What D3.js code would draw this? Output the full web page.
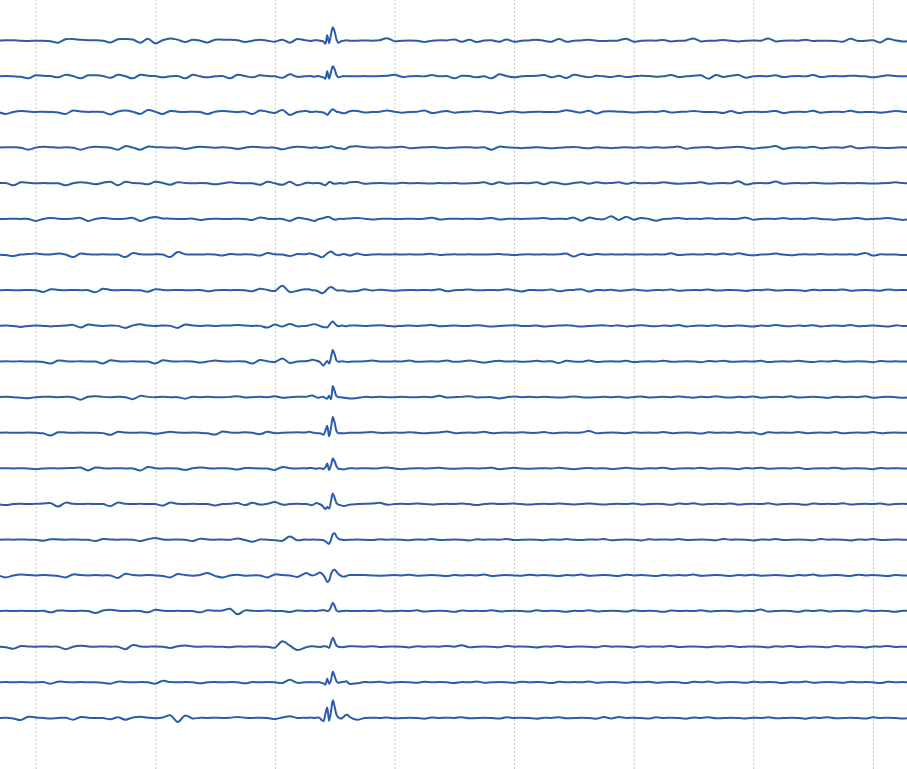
<!DOCTYPE html>
<html>
<head>
<meta charset="utf-8">
<script src="https://cdn.jsdelivr.net/npm/d3@7"></script>
<style>
  html, body { margin: 0; padding: 0; background: #ffffff; }
  svg { display: block; }
</style>
</head>
<body>
<svg id="chart" width="907" height="769"></svg>
<script>
// Sample times (s): coarse 1/16 s, finer 1/64 s around the spike, then coarse again
const times = [
  ...d3.range(42).map(k => -0.3125 + k / 16),
  ...d3.range(1, 25).map(k => 2.25 + k / 64),
  ...d3.range(75).map(k => 2.6875 + k / 16)
];
const gridSeconds = [0, 1, 2, 3, 4, 5, 6, 7];

// Channel amplitudes (top to bottom)
const ch01 = [0,0.5,0.5,0,-0.3,0,0,-0.5,-2,1.5,1.7,1,0.5,0.5,0,-1.7,1.5,1.7,1.2,-2,2,-2.7,0.5,2.3,1,-1.3,1,0,-1.7,1,1,1,0.5,-1.3,0,1,0,-1,1,-2,1.7,0.5,
  0.3,0,-0.3,0,0.3,0.5,0.3,0,-0.3,-1,-3,5.5,-2.5,6,13.5,9,1,-2,-1,-0.3,0,0.3,0.3,0,
  0,0.3,0,0.5,2.5,-0.5,0,0.3,0,-1.3,0,0.5,0.3,1.3,-1,1,-1.3,0.2,0.5,-1,1.3,-1,0,0.3,1,0,-1,1.7,-1,0,0.3,1,0,-0.3,0,0.3,2,-1,0,0.3,0,0.7,-0.7,0,0.3,2.3,-0.7,0,0,0.7,0,-0.7,0,0.3,0,2.3,-0.7,0,0.2,0,1,-0.3,0,0,-0.3,-1,2,-0.3,0,0.5,-1.7,2,0.3,-0.7,0];
const ch02 = [0,0.3,0,-0.5,-2,1,0.5,0.3,-1,1.5,0.3,-2,1,1,0.3,-1.5,1.5,0,-2,1.5,0.5,0.3,-1,0,0.3,-2,1.5,0,-1,0,0.3,-2,1.5,0.3,-1,1,0.3,0,-1.5,2,-0.5,0,
  0,0.3,0.3,0,-0.3,0,0.3,0,-0.5,-1,-2.3,5,-2.3,4,10,7,1,-1,-0.5,0,0,0.3,0,0,
  0,0.3,0,0.3,0.5,1.7,-0.5,0,0.3,0,1.3,0,0.3,-2,0.5,0.3,-1,0,-2,2,0.3,-1,0,0.3,0.5,1.3,-1,0.5,-1.7,1.5,0.3,-1,0.5,0,-0.7,0.7,-0.7,0,0.7,0.3,-0.3,0,1.3,-0.7,0,0.5,1,-2.3,1.3,-0.7,0.7,1.3,-1.3,0,0.3,0,1,-0.7,0,0.3,0,1.3,-0.7,0,0.3,0,0.7,0.3,0,-1,0,1,0.3,0,0];
const ch03 = [0,-2,0,1,0.5,0,0.3,0,-0.5,-2,1.5,0.5,0,0.3,0,-2.5,0.5,1.5,0.3,-2,2,0.3,-2,1,0.3,0,0.3,0,-2,0.3,1,0.5,0,0.3,-2,1.5,0.3,-1,2,-3,0,1,
  1,0.5,0,0,0.3,0.5,0.3,0,-0.3,-0.5,-1.5,-3,-1,1.5,2.7,1.5,0.3,0,-0.5,-1,-1.3,-1,0,0.8,
  1,-0.5,0,0.3,1.5,0.3,-0.7,0,0.3,1.5,-1,0,1,-0.7,0,0.3,1,0.3,0,-1.3,0,0.5,-0.5,0,0.3,0,0,0.3,1.7,0.5,-0.5,1.3,-1.5,0.5,0.7,0.3,0,-0.5,0,0.3,0,1,-0.5,0,0.3,1,0.3,0,0,-1,1,-1,0,0.3,0,0.3,1,-1,0,0.3,0,1.3,-0.7,0,0.3,0,1.3,-0.3,0,0,-0.7,0,1,0.3,0];
const ch04 = [0,0.3,0.3,0,-2,0,1,0.5,0,0.3,0,-2,0,1,0.5,0,-2,1.5,0,-2,1,0.5,0.3,0,0,-1.3,0,1,0.3,0,0.3,0,-1.3,0,1,0.3,0,0,-1.7,0,1,0.5,
  0.3,0,0,0,0.2,0.3,0,-0.3,-0.3,0,0.3,0.3,0.8,1.3,1,0.3,-0.3,-0.5,-0.5,-1,-1.5,-1,0,0.8,
  1.3,0.5,0,0.3,0,0.3,1,-0.5,0,0.3,0.7,0,-0.5,0,0.3,0.5,0,0.3,-2,1,0.3,0,-0.5,0,0.5,0,-0.7,0,0.3,0.7,0,-0.7,0.5,0,-0.5,0,0.3,0,0.5,0,0.3,0,0.3,1,-1,0,0.3,0.7,-0.5,0,0.3,1,0,-1,0,0.3,1.7,-1.3,0,0.3,0,1,-0.5,0,0.3,0,1.3,-0.7,0,0.5,0,-0.3,0,0.3,0];
const ch05 = [0,0.3,-2,1,0.5,0,0.3,0,0,-2,0,1,0.3,-1,0.5,1.5,-2,1.5,0.3,0,-1,1.5,0.3,-1.5,1,0.3,0,0.3,0,-1,0,1,0.3,0,0,-1.5,1.5,0,-1.5,1.5,-2,0,
  0.5,0.5,0.3,0,0,0.3,0.3,0,-0.5,-1.5,-2,-0.5,1.3,1,0,-0.5,-0.3,0,0.3,0,-0.3,0,0.5,1,
  1.3,-0.5,0,0.3,0,-0.3,0.5,0,0.3,0,-0.3,0.3,0,0.3,-0.3,0,0.3,1,-1,1,-0.5,0,0.3,0,1,-1,1,0,-1,0.3,1,-0.5,1,0,0.3,1,-0.5,0.7,0,0.3,0,1,0,-0.5,0,0.3,1,-0.5,0,0.3,0,2,-1.3,0,0.3,0,1.7,-0.5,0,0.3,0,0.5,0,-0.3,0,0.3,0,0.3,0,-0.3,0,0.3,1,0.3,0];
const ch06 = [0,0,0.3,0,0,-2,0,1,0.3,0,0.5,1,-2,0,1,0.3,0,0.3,1,-2,0.5,2,0.5,0.3,0,0,0.3,-1,0,0.3,0,0,0.3,0,-1,1.5,0.3,0,0,-2,1,0.3,
  0,-0.5,-1,-1.5,-2,-1.5,-0.5,0,0.5,1,1.5,2,2,1,0,-0.7,-0.5,0,0.3,0,0,0.3,0.5,0.5,
  1,0.3,-0.5,0,0.3,0,0,0.3,0,0.3,1.3,-0.5,0,0.3,0,0.3,0,0.3,1,-0.5,0,0.3,0,0.3,0.5,1,0,0.3,0,1.3,-1.7,1.3,0,-0.3,2.7,-1,2.3,-0.7,1,0,-1.7,0,0.3,1,0,0.3,0,0.7,0,0.3,0,0.3,1.3,-0.7,0,0.3,0,1,0,0.3,0,1,0,-0.3,-0.7,0,0.3,1,-0.3,0,0.3,1,0,-1,0];
const ch07 = [0,-0.5,-1.5,0,0.5,1,0.3,0,1,0,-2.5,1,0.3,0,0.3,0,0,-2.5,1.5,0.3,0,0.3,0,-2.5,2.5,0.3,0,0,0.3,0,-1,0.5,0,0.3,0,-1,1.5,0.3,0,-1.5,0.5,0.3,
  0.5,1,1,0.5,0,-0.5,-1,-2,-2.7,-2,-0.5,1,2.5,3,2,0.5,-0.3,-0.7,-0.3,0.3,0.5,0,-0.5,-1,
  1,-0.5,0,0.3,0,0.3,0,0.3,0,0.3,0.7,-0.3,0,0.3,0,0.3,0,0,0.3,0.5,0,-0.5,0,0.3,0,0.3,0,0.3,1,-2,0.7,-0.5,0.5,0,0.3,0,0.3,0,0.3,0,0.3,0,1.3,-0.5,0,0.3,0,0.7,0,1,0,1.3,0,-0.7,0,0.3,1,0,-0.7,0,0.3,0,0.7,0,0.3,0,0.3,0,1.7,-1,0.3,0,0,-0.5,0];
const ch08 = [0,0.3,0,0,0.3,0,-1.7,1,0.3,0,0.3,0,0,-2,1.5,0.3,0,0.3,0,0,-1.5,1,0.3,0,0.3,0,0,0.3,-1,0,0.3,0,0.3,0,-1,1.5,0.3,-0.7,4.5,-1.8,-0.5,1,
  1,1,0.5,0,0,-0.3,-1,-2,-3,-2.5,-1,1,2.5,3.3,2.5,1,0,-0.3,-0.3,0,-0.3,-0.8,-1.2,-1.3,
  -0.8,1,-0.3,0.5,0,-0.5,0,0.3,0,0.3,0,1,-1,0,0.3,0.7,0,0,0.3,0,1,0,-1.3,0.3,0,0,0.7,-1,0,0.3,1,-1.3,0.3,0,0.5,-0.5,0,0.7,0,-0.5,0.3,0,0.7,-0.5,0,0.3,0,0.8,-0.3,0,0.3,0,-0.7,0.3,0,0.8,-0.3,0,0.3,0,-0.7,0.5,0,0.3,0,0.8,-0.5,0,0.3,0,-0.5,0.8,0,0.3,0];
const ch09 = [0,0.3,0,-1,0,0.3,0,-0.5,0,0.3,1,-1.7,1.3,0.3,0,0.3,0,-2,0.5,1.7,0.3,0,0.3,0,-2,1.3,0.3,0,0.3,0,0.3,0.5,1,0.3,0,0,-1.7,1.3,-0.7,2,-0.5,0,
  0,0.5,1,1.5,1.7,1.5,0.8,0,-0.7,-1.3,-1.3,-1.5,0.5,3,4.3,2.5,0.5,-0.3,0,0.3,0,-0.3,0,0.3,
  0.3,0,0.3,0.7,0,-0.5,0,0.3,0,0.3,1,-0.3,0,0.3,0,0,0.7,0,-0.7,0,0.3,0.7,0,0,0.3,-0.7,0,0.3,0.7,0,-0.7,0,0.3,0.5,0,0.5,-0.5,0,0.7,0,-0.3,0.3,0,0.8,-0.5,0,0.3,0,0.7,-0.3,0,0.5,0,-0.7,0.3,0,0.8,0,-0.3,0.3,0,0.7,-0.5,0,0.3,0,0.8,-0.3,0,0.3,0,-0.7,0.5,0,0];
const ch10 = [0,0.3,0,0.3,0,0,-0.5,-2,1,0.3,0,0.3,0,0,-2,1.3,0.3,0,0.3,0,0,-2,1.3,0.3,0,0.3,0,-1,0,1,0.3,0,0.3,0,-2,1.5,0.3,-0.5,3,-1.5,0,0.3,
  0.5,0.8,1.3,1.7,1.5,1,0.5,-0.5,-2.5,-4,-1.5,0.5,-2,4,11.5,7,1,-0.3,0,0.3,0,-0.3,-0.5,-0.3,
  0,0.3,1,0,0,0.3,0,1,-0.3,0,0.3,0,1,-0.3,0,1,0,-1,0,0.7,0,0.3,-0.3,0,0.7,0,0.3,-1.5,0.7,0,-0.3,1,-0.5,0,0.3,0,0.7,-0.5,0,0.3,0,0.8,-0.3,0,0.3,0,-0.7,0.5,0,0.8,-0.3,0,0.3,0,0.7,-0.5,0,0.3,0,0.8,0,-0.5,0.3,0,0.7,-0.3,0,0.3,0,-0.7,0.5,0,0.3,0,0];
const ch11 = [0,0.3,0,-0.5,-1,0,0.5,0.3,0,0.3,0,-2.5,0.5,1,0.3,0,0.3,0,-2,1.3,0.3,0,0.3,0,0,-1.5,0.5,0,0.3,0,0,0.3,1,-0.3,0,0.3,0,1,-0.5,0,0.3,0.5,
  0.5,1,1.5,1.7,1,0,-0.5,-0.3,0.3,0.3,-0.8,-1.5,1.5,-2,11.3,6,1,0,0,-0.3,-0.5,-0.8,-1,-1.3,
  -0.8,0.3,0,0.3,0,0,0.3,0,0,0.3,0,1.3,-0.3,0,0.3,1,-0.3,0,0,-1.3,0,0.7,0,0.3,0,0.5,0,-0.3,0,0.7,0,-0.3,0,0.5,0,0.3,-0.5,0,0.7,-0.3,0,0.3,0,0.7,0,-0.5,0.3,0,0.8,0,-0.3,0.3,0,0.7,-0.5,0,0.3,0,0.8,-0.3,0,0.3,0,-0.7,0.5,0,0.3,0,0.8,-0.5,0,0.3,0,-0.5,0];
const ch12 = [0,0.3,0,0,0.3,0,-0.5,-2.7,0.5,0.3,0,0.3,0,0,-0.3,-2,1,0.3,0,0.3,0,-1,0,1,0.3,0,0.3,0,-0.5,-1.7,1.3,0.3,0,0.5,0,-1.3,1,-0.3,0,0.3,0.5,0.3,
  0.5,1,0.8,0.3,0,-0.3,-0.5,-0.5,-1,-2,2,7,-3.5,5,15.7,10,1.5,-0.5,-0.3,-0.5,-0.5,-0.3,0,0,
  0,0.3,0.7,0,0,0.3,0,0.5,0,-0.5,0,0.3,1.3,-0.3,0,0.3,0,1,-0.3,0,0.3,0,0.5,0,0,0.7,-0.3,0,0.3,0,0.3,1.7,-0.3,0,0.3,0,-0.5,0.5,0,0.3,0,0.8,-0.3,0,0.3,0,-0.7,0.5,0,0.3,0,0.8,0,0.3,-1.5,0.5,0,0.3,0,0.8,-0.3,0,0.3,0,0.7,-0.5,0,0.3,0,0.7,-0.3,0,0.3,0,0];
const ch13 = [0,0.3,0,0.3,0,-0.7,0,0.3,0,0.3,0.5,1,-2,1,0.3,0,0.3,0,0,-2,1.5,0.3,0,0.3,0,-1.5,0.3,1,0.3,0,0.3,0,-1,0.5,0.3,0,0,-1.5,1.5,0.3,0,0.3,
  0,0.3,0.5,0.3,0,-0.3,0,0.3,0,-0.5,1,5,-1.5,3,10,7,2,-0.5,-0.5,-0.8,-1,-0.5,0,0.3,
  0,0.3,0,0.3,1,0,-0.7,0,0.3,0,0.3,0.7,0,-0.3,0,0.3,0,0.3,0.7,-0.7,0,0.7,0,-0.3,0,0.3,0,0.7,0,-0.7,0,0.5,0,0.3,-0.5,0,0.7,0,-0.3,0.3,0,0.8,-0.5,0,0.3,0,0.7,-0.3,0,0.3,0,-0.7,0.5,0,0.8,-0.3,0,0.3,0,0.7,-0.5,0,0.3,0,0.8,-0.3,0,0.3,0,-0.7,0.5,0,0.3,0,0];
const ch14 = [0,-1,0,0.3,0,0.3,0.5,1,-2.5,1.5,0.3,0,0.3,0,0,-2,1.5,0.3,0,0.3,0,0,-1.5,1.5,0.3,0,0.3,0,0,-1.3,0,0.3,1,-1,1.3,-0.5,0.3,2,-0.5,0,0.3,0,
  0,-0.3,-0.8,-1,0,1,0.7,0,-1,-3,-5,-3,-4.5,3,10.7,6,1,-0.5,-1,-1.5,-2,-1.5,-1,-0.5,
  0,0.3,0.5,1.3,-0.5,0,0.3,0,0.7,0,-0.3,0,0.3,0,0.7,0,-1,0,0.7,0,0.3,0.5,0,-0.3,0,0.3,0,0.7,0,-0.3,0,0.7,0,-0.5,0,0.3,0,0.7,-0.3,0,0.3,0,-0.7,0.5,0,0.8,-0.3,0,0.3,0,0.7,-0.5,0,0.3,0,0.8,-0.3,0,0.3,0,-0.7,0.5,0,0.3,0,0.8,-0.3,0,0.3,0,0.7,-0.5,0,0.3,0];
const ch15 = [0,0.3,0,0.3,0,0,-1,0.5,0.3,0,0.3,0,0,-1.3,0.7,0.3,0,0.3,0,-1.3,0.5,1.7,0.3,0,0.3,0,-1.3,1,0.3,0,0.3,0,1.3,-0.3,-2,0.3,0,-0.5,-1,3.3,-0.5,0.3,
  0.3,0,0,0.3,0.3,0,0,0,-0.3,-0.5,-1.5,-3,-4,0,5.5,6.4,3,1,0.3,0,-0.3,-0.3,0,0,
  0.3,0,-0.3,0.5,0,0.3,0,-0.5,0.3,0,0.7,-0.3,0,0.3,0,-0.7,0.5,0,0.3,0,0.8,-0.3,0,0.3,0,-0.5,0.3,0,0.7,0,-0.3,0.3,0,0.8,-0.5,0,0.3,0,-0.7,0.5,0,0.3,0,0.7,-0.3,0,0.3,0,-0.5,0.8,0,0.3,0,-0.7,0.3,0,0.7,-0.3,0,0.3,0,-0.5,0.8,0,0.3,0,-0.7,0.3,0,0.7,-0.3,0,0.3,0,0];
const ch16 = [0,-2,0,1,0.3,0,0.3,0,-0.5,-2,1,0.3,0,0.3,0,0,-2.5,1.7,0.3,0,0.3,0,-0.5,-2,1.3,0.3,-0.3,0.5,2.3,-0.5,-2,0,0.7,-0.3,0,0,-2,1,0.3,0,-1.5,2,
  2.5,1.5,0.5,0,0.3,1,2,3,2,0,-3,-6.5,-5,1,5,5.7,3.5,1.5,0,-1,-1.3,-0.8,0,0.3,
  0.5,0.3,0,-0.3,0,0.3,0,0.7,-0.3,0,0.3,0,-0.7,0.5,0,0.3,0,0.8,-0.5,0,0.3,0,-0.3,0.7,0,0.3,0,-0.7,0.3,0,0.8,-0.3,0,0.3,0,-0.5,0.7,0,0.3,0,-0.7,0.5,0,0.3,0,0.8,-0.3,0,0.3,0,-0.5,0.3,0,0.7,-0.3,0,0.3,0,-0.7,0.5,0,0.8,-0.3,0,0.3,0,-0.5,0.7,0,0.3,0,-0.7,0.3,0,0];
const ch17 = [0,0.3,0,0.3,0,0,0.3,-1.3,0.5,0.3,0,0.3,0,-2,0.5,1.3,0.3,0,0.3,0,-1.3,1.3,0.3,0,0.3,0,0,-1.3,0.7,0.3,0.5,2.3,-3.3,0.7,0.3,0,0.5,0,0,-1,0.5,0,
  0,0,0.3,0.3,0,0,0.3,0.5,0.8,1,0.5,0,0.5,4,8.3,5,0.5,-0.5,-0.3,0,0,0.3,0.3,0,
  0,0.3,0,0.5,-0.3,0,0.3,0,0.7,-0.5,0,0.3,0,-0.7,0.5,0,0.3,0,0.8,-0.3,0,0.3,0,-0.5,0.7,0,0.3,0,-0.7,0.3,0,0.8,-0.3,0,0.3,0,-0.5,0.7,0,0.3,0,-0.7,0.5,0,0.3,0,0.8,-0.3,0,0.3,0,-0.5,0.3,0,1.5,-0.5,0,0.3,0,-0.7,0.5,0,0.8,-0.3,0,0.3,0,-0.5,0.7,0,0.3,0,-0.7,0.3,0];
const ch18 = [0,-0.5,-2,0.7,0.3,0,0.3,0,0,-2.5,0,1,0.3,0,0.3,0,0,-2.5,1.7,0.3,0,0.3,0,-1.3,0.5,1.3,0.3,0,0.3,0,0,-0.5,0.3,0,0.3,0,0,-1,5.5,1,-3.3,-1,
  -0.3,0,0.3,0.5,0.3,0,0,-0.3,0,0.5,0.5,0,-1,4,9,5,1,0,-0.3,-0.5,-0.3,0,0.3,0.5,
  0.3,0,0.5,-0.3,0,0.3,0,-0.7,0.5,0,0.3,0,0.7,0,1.5,-0.5,0,0.3,0,-0.5,0.7,0,0.3,0,-0.7,0.3,0,0.8,-0.3,0,0.3,0,-0.5,0.7,0,0.3,0,-0.7,0.5,0,0.3,0,0.8,-0.3,0,0.3,0,-0.5,0.3,0,0.7,-0.3,0,0.3,0,-0.7,0.5,0,0.8,-0.3,0,0.3,0,-0.5,0.7,0,0.3,0,-0.7,0.3,0,0.7,-0.3,0,0];
const ch19 = [0,0.3,0,0.3,0,0,0.3,-1.3,0.7,0.3,0,0.3,0,0,-0.5,-1.3,0.7,0.3,0,0.3,0,-1.3,1.5,0.3,0,0.3,0,-1,0,0.3,0,0.3,0,-1,0.3,0,0.3,0,-0.7,2.5,-0.5,0,
  0,0,0.3,0,0,0,0.3,0,-0.5,-1,-2.3,3.5,-1.5,2,10.5,6,1,-0.5,0,0.3,0.5,1,0,-1.5,
  -1,0.3,0,0.5,-0.3,0,0.3,0,-0.5,0.7,0,0.3,0,-0.7,0.3,0,0.8,-0.3,0,0.3,0,-0.5,0.7,0,0.3,0,-0.7,0.5,0,0.3,0,0.8,-0.3,0,0.3,0,-0.5,0.3,0,0.7,-0.3,0,0.3,0,-0.7,0.5,0,0.8,-0.3,0,0.3,0,-0.5,0.7,0,0.3,0,-0.7,0.3,0,0.8,-0.3,0,0.3,0,-0.5,0.7,0,0.3,0,-0.7,0.5,0,0.3,0];
const ch20 = [0,0.3,-0.5,-2,1.3,0.5,0,-0.5,0,0.3,-1.7,1,0.3,0,0,-1.3,0.7,-1.7,0.5,1.3,0.3,-0.3,0.5,2.7,-4,2.5,-0.5,0.3,0,0.3,0,0.3,1,0.3,0,0.3,0,-1,0.5,1.7,0,0.3,
  0,0.3,0.5,0.3,0,0.3,0.5,0,-2,-3,4,10.5,-2.7,6,17.7,11,3,0.5,-0.5,0,1.5,3,3,1,
  -1.8,0,0.3,0,0.5,-0.3,0,0.3,0,-0.7,0.5,0,0.3,0,0.8,-0.3,0,0.3,0,-0.5,0.7,0,0.3,0,-0.7,0.3,0,0.8,-0.3,0,0.3,0,-0.7,1,-0.5,1,0,0.3,0,-0.5,0.7,0,0.3,0,-0.7,0.5,0,0.8,-0.3,0,0.3,0,-0.5,0.3,0,0.7,-0.3,0,0.3,0,-0.7,0.5,0,0.8,-0.3,0,0.3,0,-0.5,0.7,0,0.3,0,-0.5,0];

const channels = [ch01, ch02, ch03, ch04, ch05, ch06, ch07, ch08, ch09, ch10,
                  ch11, ch12, ch13, ch14, ch15, ch16, ch17, ch18, ch19, ch20];

const W = 907, H = 769;
const svg = d3.select("#chart");

const x = d3.scaleLinear().domain([0, 7]).range([35.7, 872.9]);
const yBase = d3.scaleLinear().domain([0, channels.length - 1]).range([40.7, 718]);
const amp = d3.scaleLinear().domain([-10, 10]).range([10, -10]);

svg.append("defs").append("clipPath").attr("id", "clip")
  .append("rect").attr("x", 0).attr("y", 0).attr("width", W).attr("height", H);

// vertical dotted gridlines
const grid = svg.append("g")
  .attr("transform", `translate(0,${H})`)
  .call(d3.axisBottom(x).tickValues(gridSeconds).tickSize(-H).tickFormat(""));
grid.select(".domain").remove();
grid.selectAll(".tick line")
  .attr("stroke", "#c4c4c4")
  .attr("stroke-width", 1)
  .attr("stroke-dasharray", "2,2");

const line = d3.line()
  .x((d, i) => x(times[i]))
  .y(d => amp(d))
  .curve(d3.curveCatmullRom.alpha(0.5));

const traces = svg.append("g").attr("clip-path", "url(#clip)");
traces.selectAll("path.trace")
  .data(channels)
  .join("path")
  .attr("class", "trace")
  .attr("transform", (d, i) => `translate(0,${yBase(i)})`)
  .attr("fill", "none")
  .attr("stroke", "#2b5ca9")
  .attr("stroke-width", 2)
  .attr("stroke-linejoin", "round")
  .attr("stroke-linecap", "round")
  .attr("d", d => line(d.slice(0, times.length)));
</script>
</body>
</html>
